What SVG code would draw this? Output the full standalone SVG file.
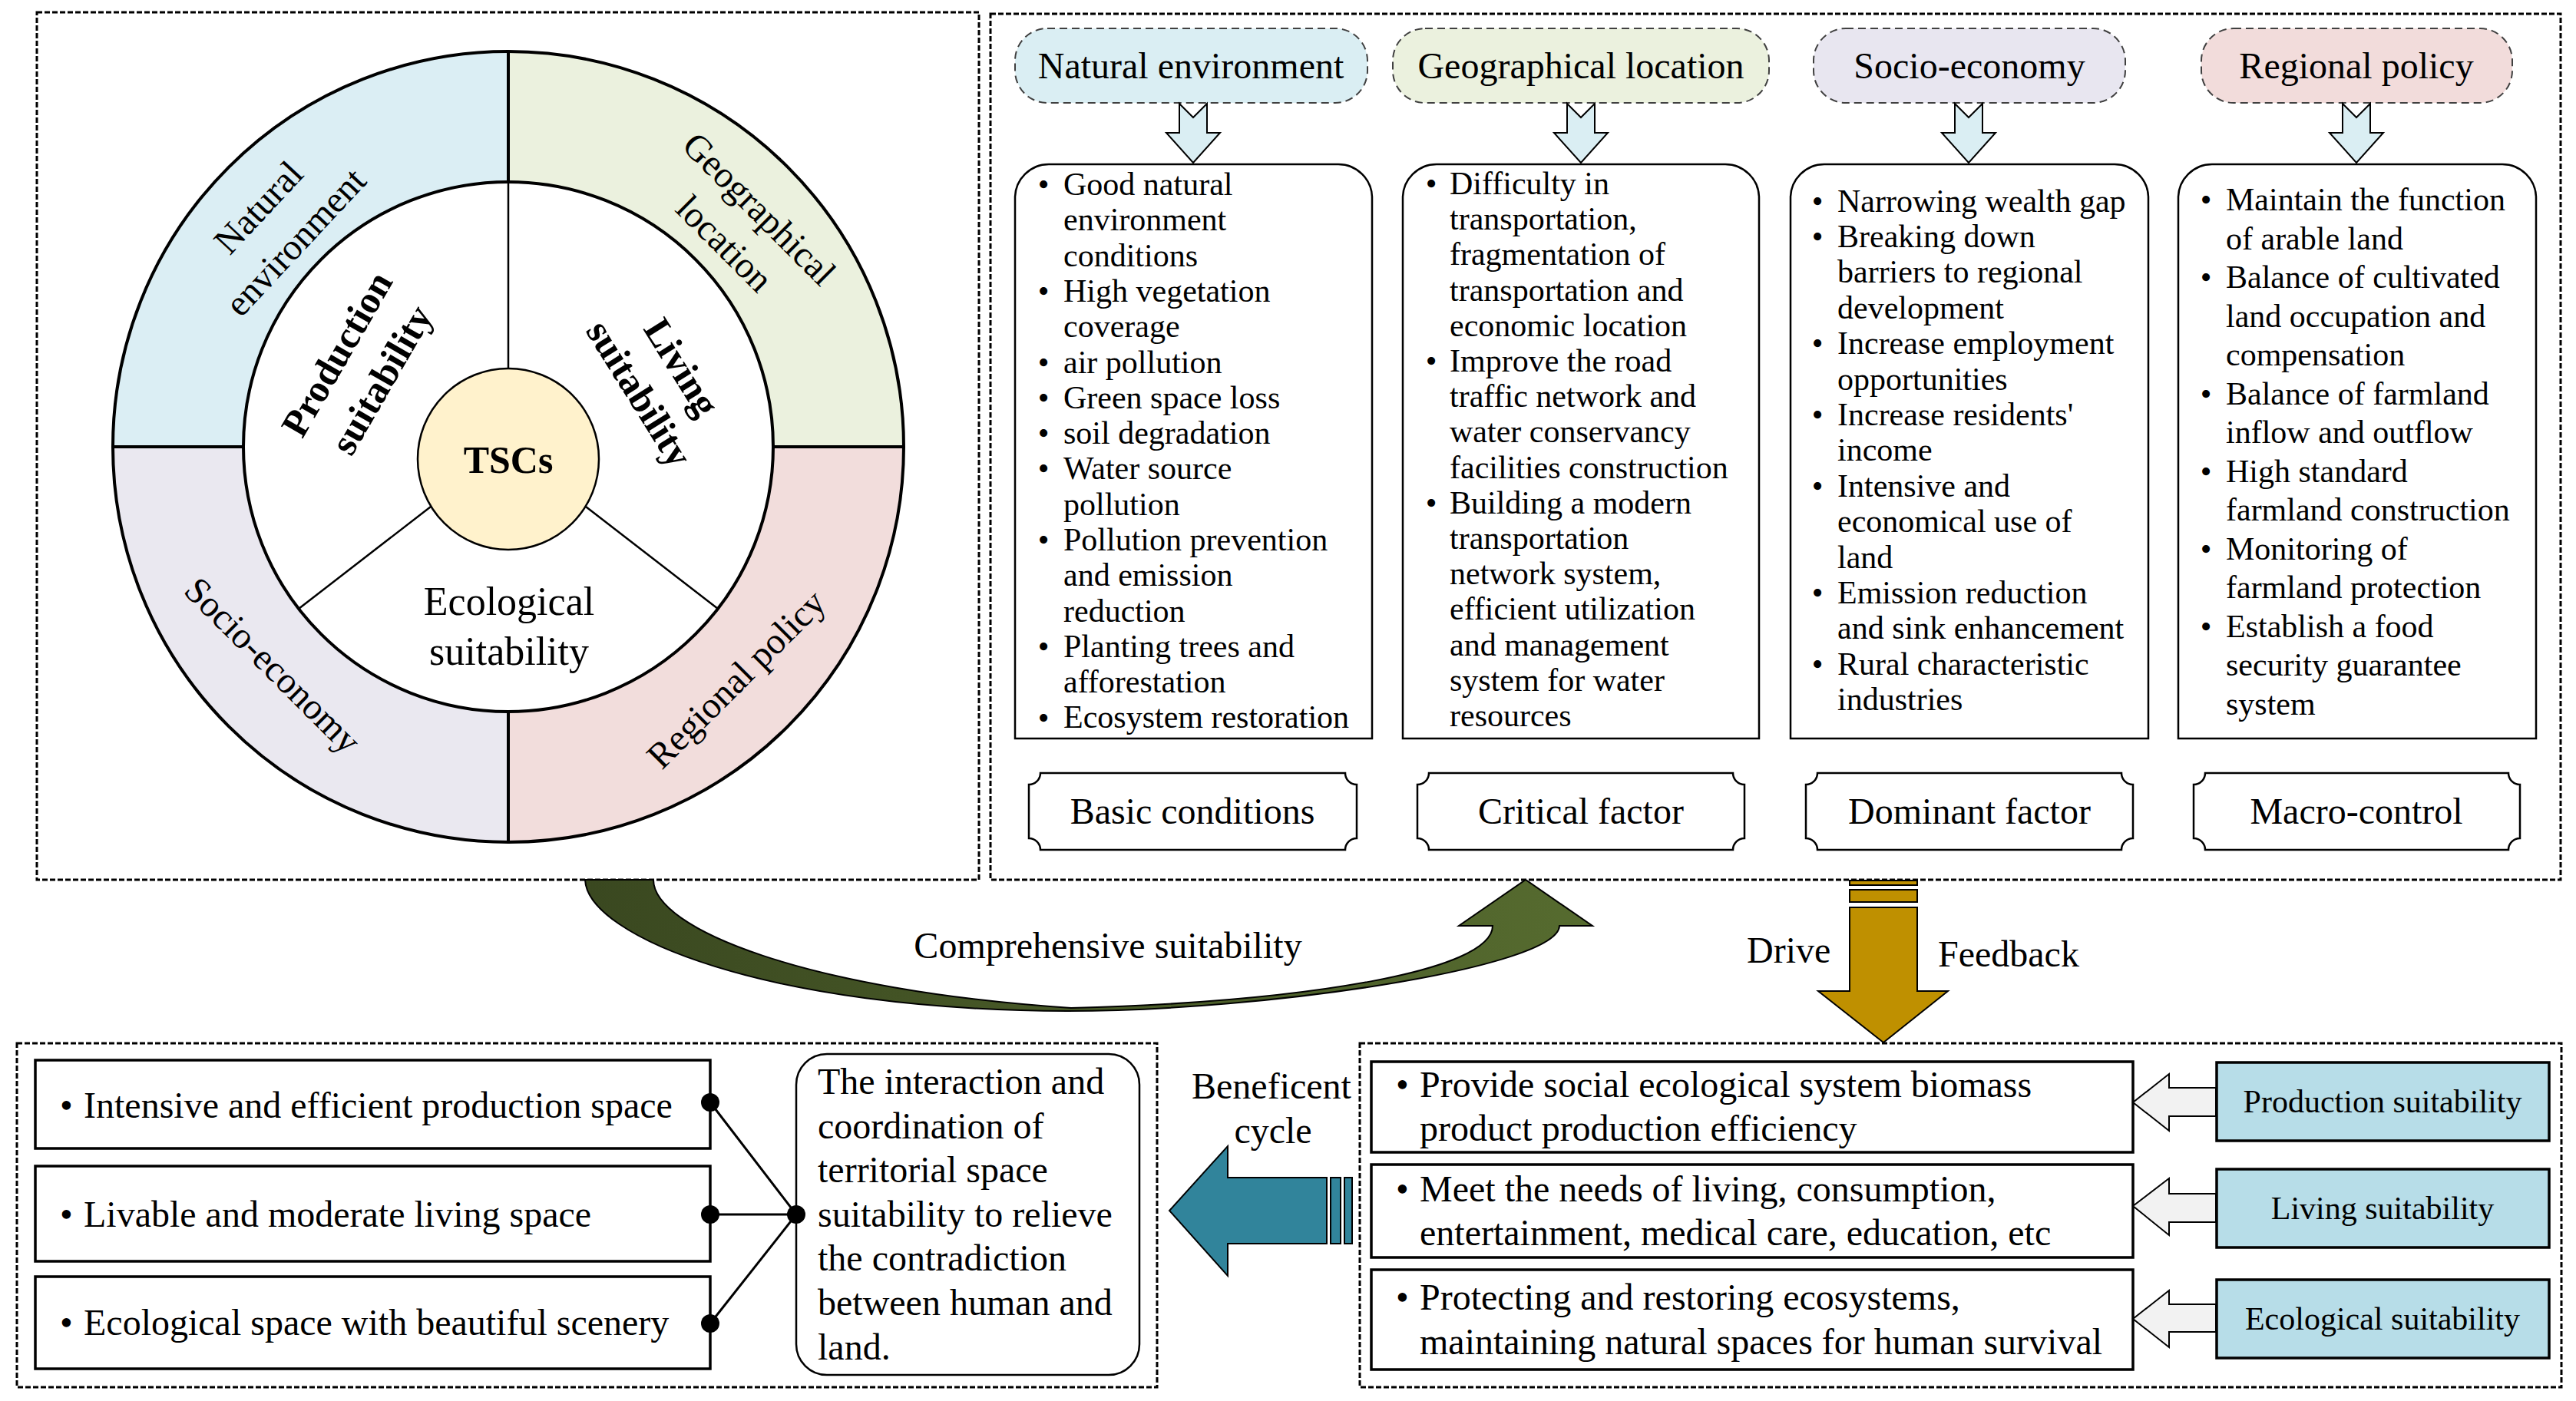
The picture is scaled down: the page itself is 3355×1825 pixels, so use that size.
<svg xmlns="http://www.w3.org/2000/svg" width="3355" height="1825" viewBox="0 0 3355 1825">
<defs>
<style>
text{font-family:"Liberation Serif","Times New Roman",serif;fill:#000}
.frame{fill:none;stroke:#000;stroke-width:3;stroke-dasharray:7 3}
.pill{stroke:#404040;stroke-width:2;stroke-dasharray:10 6}
.box{fill:#fff;stroke:#000;stroke-width:2.5}
.tbox{fill:#fff;stroke:#000;stroke-width:3.5}
.sbox{fill:#B7DDE8;stroke:#000;stroke-width:3.5}
.harrow{fill:#DAEEF3;stroke:#000;stroke-width:2}
.larrow{fill:#F2F2F2;stroke:#000;stroke-width:2}
.t42{font-size:42px}
.t48{font-size:48px}
.mid{text-anchor:middle}
.ring{fill:none;stroke:#000;stroke-width:4}
.thin{stroke:#000;stroke-width:2.5}
.thick{stroke:#000;stroke-width:4}
.b{font-weight:bold}
</style>
<linearGradient id="g" x1="762" y1="0" x2="2074" y2="0" gradientUnits="userSpaceOnUse">
<stop offset="0" stop-color="#3A4820"/><stop offset="1" stop-color="#566B2F"/>
</linearGradient>
</defs>
<rect width="3355" height="1825" fill="#fff"/>

<!-- frames -->
<g id="frames">
<rect class="frame" x="48" y="16" width="1227" height="1130"/>
<rect class="frame" x="1290" y="18" width="2045" height="1128"/>
<rect class="frame" x="22" y="1359" width="1485" height="448"/>
<rect class="frame" x="1771" y="1359" width="1565" height="448"/>
</g>

<!-- wheel -->
<g id="wheel">
<path d="M662,582 H147 A515,515 0 0 1 662,67 Z" fill="#DBEEF4"/>
<path d="M662,582 V67 A515,515 0 0 1 1177,582 Z" fill="#EBF1DE"/>
<path d="M662,582 H1177 A515,515 0 0 1 662,1097 Z" fill="#F2DDDC"/>
<path d="M662,582 V1097 A515,515 0 0 1 147,582 Z" fill="#EAE8F0"/>
<circle class="ring" cx="662" cy="582" r="515"/>
<circle cx="662" cy="582" r="345" fill="#fff" stroke="#000" stroke-width="4"/>
<line class="thick" x1="662" y1="67" x2="662" y2="237"/>
<line class="thick" x1="662" y1="927" x2="662" y2="1097"/>
<line class="thick" x1="147" y1="582" x2="317" y2="582"/>
<line class="thick" x1="1007" y1="582" x2="1177" y2="582"/>
<line class="thin" x1="662" y1="237" x2="662" y2="480"/>
<line class="thin" x1="561" y1="660" x2="389" y2="793"/>
<line class="thin" x1="763" y1="660" x2="935" y2="793"/>
<text class="t48 mid" transform="translate(360,292) rotate(-47)"><tspan x="0" y="-16">Natural</tspan><tspan x="0" y="50">environment</tspan></text>
<text class="t48 mid" transform="translate(967,294) rotate(45)"><tspan x="0" y="-15">Geographical</tspan><tspan x="0" y="49">location</tspan></text>
<text class="t48 mid" transform="translate(356,866) rotate(45)" y="17">Socio-economy</text>
<text class="t48 mid" transform="translate(958,884) rotate(-45)" y="17">Regional policy</text>
<text class="b mid" font-size="50" transform="translate(468,478) rotate(-60)"><tspan x="0" y="-17">Production</tspan><tspan x="0" y="50">suitability</tspan></text>
<text class="b mid" font-size="50" transform="translate(861,495) rotate(58)"><tspan x="0" y="-15">Living</tspan><tspan x="0" y="50">suitability</tspan></text>
<text class="mid" font-size="52" x="663" y="801">Ecological</text>
<text class="mid" font-size="52" x="663" y="866">suitability</text>
</g>
<g id="tscs">
<circle cx="662" cy="598" r="118" fill="#FFF2CC" stroke="#000" stroke-width="2.5"/>
<text class="b mid" font-size="50" x="662" y="616">TSCs</text>
</g>

<!-- factor pills -->
<g id="pill-natural">
<rect class="pill" x="1322" y="37" width="459" height="97" rx="42" fill="#DAEEF3"/>
<text class="t48 mid" x="1551" y="102">Natural environment</text>
</g>
<g id="pill-geo">
<rect class="pill" x="1814" y="37" width="490" height="97" rx="42" fill="#EBF1DE"/>
<text class="t48 mid" x="2059" y="102">Geographical location</text>
</g>
<g id="pill-socio">
<rect class="pill" x="2362" y="37" width="406" height="97" rx="42" fill="#E8E6F0"/>
<text class="t48 mid" x="2565" y="102">Socio-economy</text>
</g>
<g id="pill-regional">
<rect class="pill" x="2867" y="37" width="405" height="97" rx="42" fill="#F2DCDB"/>
<text class="t48 mid" x="3069" y="102">Regional policy</text>
</g>

<!-- content boxes -->
<g id="box-natural">
<path class="box" d="M1322,962 V258 A44,44 0 0 1 1366,214 H1743 A44,44 0 0 1 1787,258 V962 Z"/>
<g class="t42 mid"><text x="1359" y="254">•</text><text x="1359" y="392.9">•</text><text x="1359" y="485.5">•</text><text x="1359" y="531.8">•</text><text x="1359" y="578.1">•</text><text x="1359" y="624.4">•</text><text x="1359" y="717">•</text><text x="1359" y="855.9">•</text><text x="1359" y="948.5">•</text></g>
<text class="t42" x="1385" y="254"><tspan x="1385">Good natural</tspan><tspan x="1385" dy="46.3">environment</tspan><tspan x="1385" dy="46.3">conditions</tspan><tspan x="1385" dy="46.3">High vegetation</tspan><tspan x="1385" dy="46.3">coverage</tspan><tspan x="1385" dy="46.3">air pollution</tspan><tspan x="1385" dy="46.3">Green space loss</tspan><tspan x="1385" dy="46.3">soil degradation</tspan><tspan x="1385" dy="46.3">Water source</tspan><tspan x="1385" dy="46.3">pollution</tspan><tspan x="1385" dy="46.3">Pollution prevention</tspan><tspan x="1385" dy="46.3">and emission</tspan><tspan x="1385" dy="46.3">reduction</tspan><tspan x="1385" dy="46.3">Planting trees and</tspan><tspan x="1385" dy="46.3">afforestation</tspan><tspan x="1385" dy="46.3">Ecosystem restoration</tspan></text>
</g>
<g id="box-geo">
<path class="box" d="M1827,962 V258 A44,44 0 0 1 1871,214 H2247 A44,44 0 0 1 2291,258 V962 Z"/>
<g class="t42 mid"><text x="1864" y="253">•</text><text x="1864" y="484">•</text><text x="1864" y="668.8">•</text></g>
<text class="t42" x="1888" y="253"><tspan x="1888">Difficulty in</tspan><tspan x="1888" dy="46.2">transportation,</tspan><tspan x="1888" dy="46.2">fragmentation of</tspan><tspan x="1888" dy="46.2">transportation and</tspan><tspan x="1888" dy="46.2">economic location</tspan><tspan x="1888" dy="46.2">Improve the road</tspan><tspan x="1888" dy="46.2">traffic network and</tspan><tspan x="1888" dy="46.2">water conservancy</tspan><tspan x="1888" dy="46.2">facilities construction</tspan><tspan x="1888" dy="46.2">Building a modern</tspan><tspan x="1888" dy="46.2">transportation</tspan><tspan x="1888" dy="46.2">network system,</tspan><tspan x="1888" dy="46.2">efficient utilization</tspan><tspan x="1888" dy="46.2">and management</tspan><tspan x="1888" dy="46.2">system for water</tspan><tspan x="1888" dy="46.2">resources</tspan></text>
</g>
<g id="box-socio">
<path class="box" d="M2332,962 V258 A44,44 0 0 1 2376,214 H2754 A44,44 0 0 1 2798,258 V962 Z"/>
<g class="t42 mid"><text x="2367" y="275.5">•</text><text x="2367" y="321.9">•</text><text x="2367" y="461.1">•</text><text x="2367" y="553.9">•</text><text x="2367" y="646.7">•</text><text x="2367" y="785.9">•</text><text x="2367" y="878.7">•</text></g>
<text class="t42" x="2393" y="275.5"><tspan x="2393">Narrowing wealth gap</tspan><tspan x="2393" dy="46.4">Breaking down</tspan><tspan x="2393" dy="46.4">barriers to regional</tspan><tspan x="2393" dy="46.4">development</tspan><tspan x="2393" dy="46.4">Increase employment</tspan><tspan x="2393" dy="46.4">opportunities</tspan><tspan x="2393" dy="46.4">Increase residents'</tspan><tspan x="2393" dy="46.4">income</tspan><tspan x="2393" dy="46.4">Intensive and</tspan><tspan x="2393" dy="46.4">economical use of</tspan><tspan x="2393" dy="46.4">land</tspan><tspan x="2393" dy="46.4">Emission reduction</tspan><tspan x="2393" dy="46.4">and sink enhancement</tspan><tspan x="2393" dy="46.4">Rural characteristic</tspan><tspan x="2393" dy="46.4">industries</tspan></text>
</g>
<g id="box-regional">
<path class="box" d="M2837,962 V258 A44,44 0 0 1 2881,214 H3259 A44,44 0 0 1 3303,258 V962 Z"/>
<g class="t42 mid"><text x="2873" y="274">•</text><text x="2873" y="375">•</text><text x="2873" y="526.5">•</text><text x="2873" y="627.5">•</text><text x="2873" y="728.5">•</text><text x="2873" y="829.5">•</text></g>
<text class="t42" x="2899" y="274"><tspan x="2899">Maintain the function</tspan><tspan x="2899" dy="50.5">of arable land</tspan><tspan x="2899" dy="50.5">Balance of cultivated</tspan><tspan x="2899" dy="50.5">land occupation and</tspan><tspan x="2899" dy="50.5">compensation</tspan><tspan x="2899" dy="50.5">Balance of farmland</tspan><tspan x="2899" dy="50.5">inflow and outflow</tspan><tspan x="2899" dy="50.5">High standard</tspan><tspan x="2899" dy="50.5">farmland construction</tspan><tspan x="2899" dy="50.5">Monitoring of</tspan><tspan x="2899" dy="50.5">farmland protection</tspan><tspan x="2899" dy="50.5">Establish a food</tspan><tspan x="2899" dy="50.5">security guarantee</tspan><tspan x="2899" dy="50.5">system</tspan></text>
</g>

<!-- role labels -->
<g id="label-basic">
<path class="box" stroke-width="2" d="M1355,1007 H1752 A15,15 0 0 0 1767,1022 V1092 A15,15 0 0 0 1752,1107 H1355 A15,15 0 0 0 1340,1092 V1022 A15,15 0 0 0 1355,1007 Z"/>
<text class="t48 mid" x="1553" y="1073">Basic conditions</text>
</g>
<g id="label-critical">
<path class="box" stroke-width="2" d="M1861,1007 H2257 A15,15 0 0 0 2272,1022 V1092 A15,15 0 0 0 2257,1107 H1861 A15,15 0 0 0 1846,1092 V1022 A15,15 0 0 0 1861,1007 Z"/>
<text class="t48 mid" x="2059" y="1073">Critical factor</text>
</g>
<g id="label-dominant">
<path class="box" stroke-width="2" d="M2367,1007 H2763 A15,15 0 0 0 2778,1022 V1092 A15,15 0 0 0 2763,1107 H2367 A15,15 0 0 0 2352,1092 V1022 A15,15 0 0 0 2367,1007 Z"/>
<text class="t48 mid" x="2565" y="1073">Dominant factor</text>
</g>
<g id="label-macro">
<path class="box" stroke-width="2" d="M2872,1007 H3267 A15,15 0 0 0 3282,1022 V1092 A15,15 0 0 0 3267,1107 H2872 A15,15 0 0 0 2857,1092 V1022 A15,15 0 0 0 2872,1007 Z"/>
<text class="t48 mid" x="3069" y="1073">Macro-control</text>
</g>

<!-- bottom left -->
<g id="space-production">
<rect class="tbox" x="46" y="1381" width="879" height="115"/>
<text class="t48" x="78" y="1456">•</text>
<text class="t48" x="109" y="1456">Intensive and efficient production space</text>
</g>
<g id="space-living">
<rect class="tbox" x="46" y="1519" width="879" height="124"/>
<text class="t48" x="78" y="1598">•</text>
<text class="t48" x="109" y="1598">Livable and moderate living space</text>
</g>
<g id="space-ecological">
<rect class="tbox" x="46" y="1663" width="879" height="120"/>
<text class="t48" x="78" y="1739">•</text>
<text class="t48" x="109" y="1739">Ecological space with beautiful scenery</text>
</g>
<g id="interaction">
<rect class="box" x="1037" y="1373" width="447" height="418" rx="40"/>
<text class="t48" x="1065" y="1425"><tspan x="1065">The interaction and</tspan><tspan x="1065" dy="57.6">coordination of</tspan><tspan x="1065" dy="57.6">territorial space</tspan><tspan x="1065" dy="57.6">suitability to relieve</tspan><tspan x="1065" dy="57.6">the contradiction</tspan><tspan x="1065" dy="57.6">between human and</tspan><tspan x="1065" dy="57.6">land.</tspan></text>
</g>

<!-- bottom right -->
<g id="effect-production">
<rect class="tbox" x="1786" y="1383" width="992" height="118"/>
<text class="t48" x="1818" y="1429">•</text>
<text class="t48" x="1849" y="1429"><tspan x="1849">Provide social ecological system biomass</tspan><tspan x="1849" dy="57">product production efficiency</tspan></text>
</g>
<g id="effect-living">
<rect class="tbox" x="1786" y="1517" width="992" height="121"/>
<text class="t48" x="1818" y="1565">•</text>
<text class="t48" x="1849" y="1565"><tspan x="1849">Meet the needs of living, consumption,</tspan><tspan x="1849" dy="57">entertainment, medical care, education, etc</tspan></text>
</g>
<g id="effect-ecological">
<rect class="tbox" x="1786" y="1654" width="992" height="130"/>
<text class="t48" x="1818" y="1706">•</text>
<text class="t48" x="1849" y="1706"><tspan x="1849">Protecting and restoring ecosystems,</tspan><tspan x="1849" dy="58">maintaining natural spaces for human survival</tspan></text>
</g>
<g id="suit-production">
<rect class="sbox" x="2887" y="1384" width="433" height="102"/>
<text class="t42 mid" x="3103" y="1449">Production suitability</text>
</g>
<g id="suit-living">
<rect class="sbox" x="2887" y="1523" width="433" height="102"/>
<text class="t42 mid" x="3103" y="1588">Living suitability</text>
</g>
<g id="suit-ecological">
<rect class="sbox" x="2887" y="1667" width="433" height="102"/>
<text class="t42 mid" x="3103" y="1732">Ecological suitability</text>
</g>

<!-- connectors -->
<g id="connectors">
<path class="harrow" d="M1536,135 L1554,153 L1572,135 V173 H1589 L1554,212 L1519,173 H1536 Z"/>
<path class="harrow" d="M2041,135 L2059,153 L2077,135 V173 H2094 L2059,212 L2024,173 H2041 Z"/>
<path class="harrow" d="M2546,135 L2564,153 L2582,135 V173 H2599 L2564,212 L2529,173 H2546 Z"/>
<path class="harrow" d="M3051,135 L3069,153 L3087,135 V173 H3104 L3069,212 L3034,173 H3051 Z"/>

<path d="M762,1146 C765,1220 1000,1316 1390,1317 C1650,1317 2030,1260 2031,1206 L2074,1206 L1987,1146 L1900,1206 L1944,1206 C1944,1265 1700,1305 1395,1313 C1050,1290 851,1210 851,1146 Z" fill="url(#g)" stroke="#000" stroke-width="2"/>
<text class="t48 mid" x="1443" y="1248">Comprehensive suitability</text>

<g fill="#BF9000" stroke="#000" stroke-width="2">
<rect x="2409" y="1147" width="88" height="6"/>
<rect x="2409" y="1159" width="88" height="16"/>
<path d="M2409,1182 H2497 V1291 H2537 L2453,1358 L2368,1291 H2409 Z"/>
</g>
<text class="t48" x="2275" y="1254">Drive</text>
<text class="t48" x="2524" y="1259">Feedback</text>

<g fill="#31849B" stroke="#000" stroke-width="2">
<path d="M1728,1534 V1620 H1599 V1662 L1523,1577 L1599,1493 V1534 Z"/>
<rect x="1733" y="1534" width="13" height="86"/>
<rect x="1751" y="1534" width="10" height="86"/>
</g>
<text class="t48 mid" x="1656" y="1431">Beneficent</text>
<text class="t48 mid" x="1658" y="1489">cycle</text>

<path class="larrow" d="M2886,1417 H2825 V1399 L2778,1436 L2825,1473 V1454 H2886 Z"/>
<path class="larrow" d="M2886,1555 H2825 V1535 L2778,1571 L2825,1609 V1592 H2886 Z"/>
<path class="larrow" d="M2886,1699 H2825 V1681 L2778,1718 L2825,1755 V1735 H2886 Z"/>

<g stroke="#000" stroke-width="3" fill="none">
<line x1="925" y1="1436" x2="1037" y2="1582"/>
<line x1="925" y1="1582" x2="1037" y2="1582"/>
<line x1="925" y1="1724" x2="1037" y2="1582"/>
</g>
<g fill="#000">
<circle cx="925" cy="1436" r="12"/>
<circle cx="925" cy="1582" r="12"/>
<circle cx="925" cy="1724" r="12"/>
<circle cx="1037" cy="1582" r="12"/>
</g>
</g>
</svg>
